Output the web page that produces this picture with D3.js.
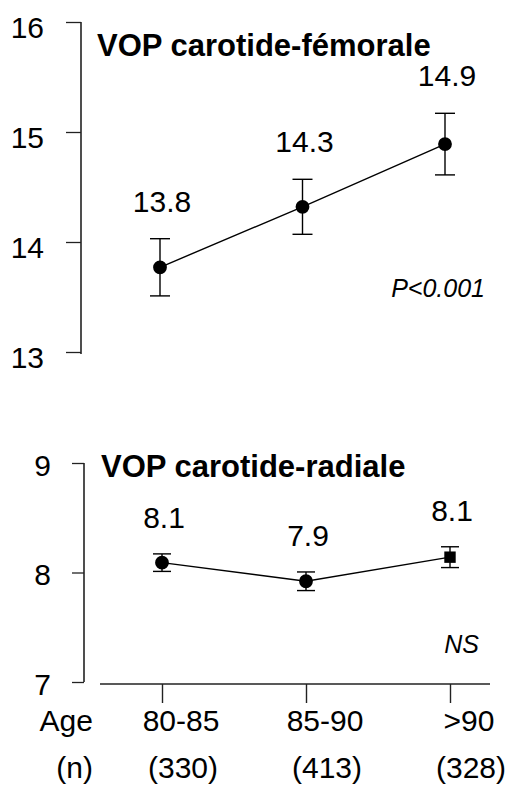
<!DOCTYPE html>
<html>
<head>
<meta charset="utf-8">
<script src="https://cdn.jsdelivr.net/npm/d3@7/dist/d3.min.js"></script>
<style>
  html, body { margin: 0; padding: 0; background: #fff; }
  svg { display: block; }
  text { font-family: "Liberation Sans", Arial, sans-serif; fill: #000; }
</style>
</head>
<body>
<svg id="chart" width="512" height="789"></svg>
<script>
// Age groups and group sizes
const ageGroups = ["80-85", "85-90", ">90"];
const groupSizes = ["(330)", "(413)", "(328)"];

// Carotid-femoral PWV (m/s): mean and error bar half-width
const femMean = [13.77, 14.32, 14.89];
const femErr = [0.26, 0.25, 0.28];
const femLabels = ["13.8", "14.3", "14.9"];
const femTicks = [13, 14, 15, 16];

// Carotid-radial PWV (m/s)
const radMean = [8.09, 7.92, 8.14];
const radErr = [0.08, 0.085, 0.095];
const radLabels = ["8.1", "7.9", "8.1"];
const radTicks = [7, 8, 9];

const svg = d3.select("#chart");

function panel(opts) {
  const g = svg.append("g");
  const x = d3.scalePoint().domain(ageGroups).range(opts.xRange);
  const y = d3.scaleLinear().domain(opts.yDomain).range(opts.yRange);

  // y axis
  const ax = g.append("g")
    .attr("transform", `translate(${opts.axisX},0)`)
    .call(d3.axisLeft(y).tickValues(opts.ticks).tickSize(opts.tickLen)
      .tickSizeOuter(0).tickPadding(opts.tickPad).tickFormat(d3.format("d")));
  ax.select(".domain").remove();
  ax.selectAll(".tick line").attr("stroke", "#222").attr("stroke-width", 1.3);
  ax.selectAll(".tick text")
    .attr("font-size", 30).attr("dy", opts.tickDy)
    .attr("font-family", "Liberation Sans, Arial, sans-serif").attr("fill", "#000");
  g.append("line")
    .attr("x1", opts.axisX).attr("x2", opts.axisX)
    .attr("y1", y(opts.yDomain[1])).attr("y2", y(opts.yDomain[0]) + opts.axisExtra)
    .attr("stroke", "#222").attr("stroke-width", 1.6);

  const pts = ageGroups.map((a, i) => ({
    a, m: opts.mean[i], e: opts.err[i], lab: opts.labels[i], i
  }));

  // connecting line
  g.append("path")
    .datum(pts)
    .attr("fill", "none").attr("stroke", "#000").attr("stroke-width", 1.4)
    .attr("d", d3.line().x(d => x(d.a)).y(d => y(d.m)));

  // error bars
  const eb = g.append("g").selectAll("g").data(pts).join("g");
  eb.append("line")
    .attr("x1", d => x(d.a)).attr("x2", d => x(d.a))
    .attr("y1", d => y(d.m + d.e)).attr("y2", d => y(d.m - d.e))
    .attr("stroke", "#000").attr("stroke-width", 1.4);
  [1, -1].forEach(s => {
    eb.append("line")
      .attr("x1", d => x(d.a) - opts.cap).attr("x2", d => x(d.a) + opts.cap)
      .attr("y1", d => y(d.m + s * d.e)).attr("y2", d => y(d.m + s * d.e))
      .attr("stroke", "#000").attr("stroke-width", 1.4);
  });

  // markers
  g.append("g").selectAll("path").data(pts).join("path")
    .attr("transform", d => `translate(${x(d.a)},${y(d.m)})`)
    .attr("fill", "#000")
    .attr("d", d => d3.symbol()
      .type(opts.squareLast && d.i === 2 ? d3.symbolSquare : d3.symbolCircle)
      .size(opts.squareLast && d.i === 2 ? 130 : opts.markerSize)());

  // value labels
  g.append("g").selectAll("text").data(pts).join("text")
    .attr("x", d => x(d.a) + 2)
    .attr("y", d => y(d.m + d.e) - opts.labelGap)
    .attr("text-anchor", "middle")
    .attr("font-size", 30)
    .text(d => d.lab);

  // title
  g.append("text")
    .attr("x", opts.titleX).attr("y", opts.titleY)
    .attr("font-size", 31).attr("font-weight", "bold")
    .text(opts.title);

  // significance note
  g.append("text")
    .attr("x", opts.noteX).attr("y", opts.noteY)
    .attr("text-anchor", "end")
    .attr("font-size", 25).attr("font-style", "italic")
    .text(opts.note);

  return { x, y };
}

panel({
  xRange: [160, 445], yDomain: [13, 16], yRange: [352, 22],
  axisX: 81, axisExtra: 2, ticks: femTicks, tickLen: 15, tickPad: 22, tickDy: "0.5em",
  mean: femMean, err: femErr, labels: femLabels, cap: 10, markerSize: 150,
  labelGap: 27, title: "VOP carotide-fémorale", titleX: 97, titleY: 56,
  note: "P<0.001", noteX: 485, noteY: 297, squareLast: false
});

const bottom = panel({
  xRange: [162, 450], yDomain: [7, 9], yRange: [682, 463],
  axisX: 84, axisExtra: 0, ticks: radTicks, tickLen: 12, tickPad: 21, tickDy: "0.4em",
  mean: radMean, err: radErr, labels: radLabels, cap: 9, markerSize: 150,
  labelGap: 26, title: "VOP carotide-radiale", titleX: 101, titleY: 477,
  note: "NS", noteX: 479, noteY: 653, squareLast: true
});

// x axis with age groups
const xAxisG = svg.append("g")
  .attr("transform", "translate(0,684)")
  .call(d3.axisBottom(bottom.x).tickSize(19).tickSizeOuter(0).tickFormat(""));
xAxisG.select(".domain").remove();
xAxisG.selectAll(".tick line").attr("stroke", "#222").attr("stroke-width", 1.4);
svg.append("line")
  .attr("x1", 100).attr("x2", 490).attr("y1", 684).attr("y2", 684)
  .attr("stroke", "#222").attr("stroke-width", 1.6);

const xl = svg.append("g").selectAll("text")
  .data(ageGroups.map((a, i) => ({ a, n: groupSizes[i] })))
  .join("text")
  .attr("text-anchor", "middle")
  .attr("font-size", 30);
xl.append("tspan")
  .attr("x", d => bottom.x(d.a) + 19).attr("y", 731)
  .text(d => d.a);
xl.append("tspan")
  .attr("x", d => bottom.x(d.a) + 21).attr("y", 778)
  .text(d => d.n);

svg.append("text").attr("x", 93).attr("y", 731).attr("text-anchor", "end")
  .attr("font-size", 30).text("Age");
svg.append("text").attr("x", 93).attr("y", 778).attr("text-anchor", "end")
  .attr("font-size", 30).text("(n)");
</script>
</body>
</html>
